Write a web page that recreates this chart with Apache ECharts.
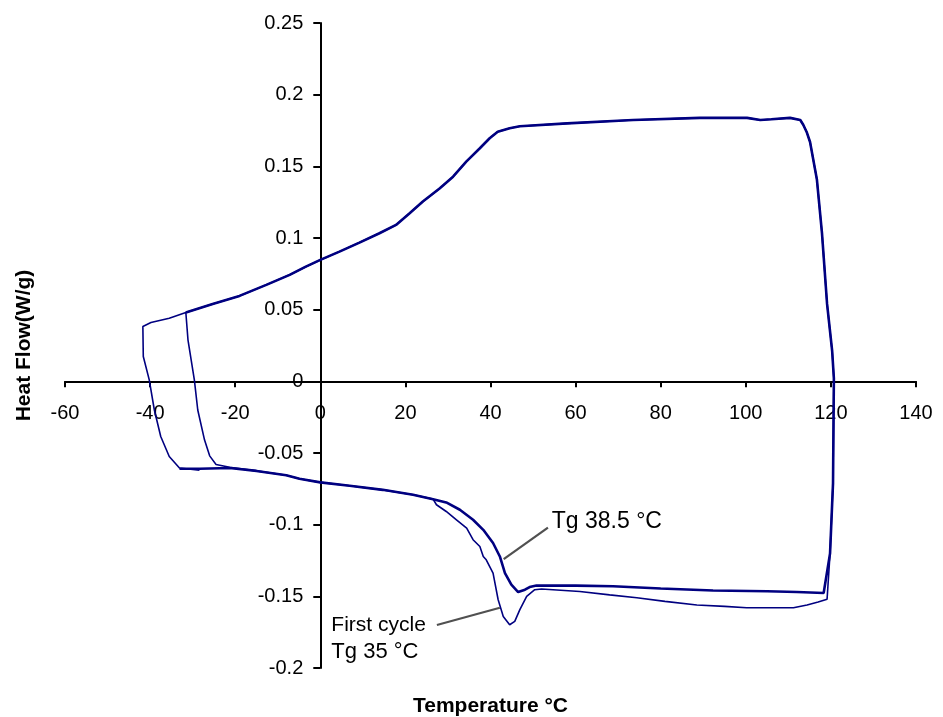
<!DOCTYPE html>
<html>
<head>
<meta charset="utf-8">
<script src="https://cdn.jsdelivr.net/npm/echarts@6/dist/echarts.min.js"></script>
<style>html,body{margin:0;padding:0;background:#fff}#c{width:943px;height:717px}</style>
</head>
<body>
<div id="c"></div>
<script>
// ---- Data segments (Temperature °C, Heat Flow W/g) ----
// cooling curve (shared by both cycles), read right to left
const topTemp = [115.1,114.3,113.5,112.8,110.4,106,103.4,100.3,89.2,73.5,58,46.9,44.5,41.7,39.8,37.5,34.3,31.2,28.1,24.1,21,17.8,13.9,9.2,4.5,0,-3.4,-7.2,-12.7,-19,-25.3,-31.6];
const topFlow = [0.167,0.174,0.179,0.1823,0.1838,0.1828,0.1823,0.1838,0.1838,0.1823,0.180,0.178,0.1766,0.1742,0.1696,0.1626,0.1533,0.1428,0.1347,0.1254,0.1173,0.1091,0.1033,0.0968,0.0905,0.0847,0.080,0.0743,0.0673,0.0596,0.054,0.048];
// drop at -30 °C
const innerDropTemp = [-31.6,-31.1,-29.6,-28.8,-27.2,-26,-24.5,-21.3];
const innerDropFlow = [0.048,0.029,0.001,-0.020,-0.041,-0.052,-0.058,-0.060];
// drop at -42 °C
const outerDropTemp = [-35.5,-39.8,-41.7,-41.6,-40.2,-39,-37.5,-35.5,-33.1,-28.4];
const outerDropFlow = [0.044,0.041,0.0382,0.0173,0.001,-0.020,-0.0385,-0.0524,-0.0605,-0.062];
// start of second heating
const start2Temp = [-33.1,-28.4];
const start2Flow = [-0.061,-0.061];
// heating curve, common part
const sharedBottomTemp = [-21.3,-15,-8,-4.9,0,6.9,14.7,21.8,26.5];
const sharedBottomFlow = [-0.0605,-0.0625,-0.0655,-0.068,-0.0705,-0.0729,-0.0757,-0.0791,-0.0822];
// heating curve, first cycle
const bottom1Temp = [27.3,29.6,32,34.4,35.9,37.5,38.3,39,40.6,41.8,43,44.5,45.7,46.9,48.5,50.4,52,61,68,74.4,81,88.5,95,100.2,106,111.2,114.4,117,119.1];
const bottom1Flow = [-0.0861,-0.0908,-0.0966,-0.1024,-0.1105,-0.1152,-0.1222,-0.1245,-0.1338,-0.1524,-0.164,-0.1698,-0.1675,-0.1593,-0.150,-0.1454,-0.1449,-0.1466,-0.149,-0.151,-0.1535,-0.156,-0.157,-0.158,-0.158,-0.158,-0.156,-0.154,-0.152];
// heating curve, second cycle
const bottom2Temp = [29.6,32.8,35.9,38.3,40.6,42.2,43.4,44.9,46.5,48.1,49.2,50.8,60,68.8,80,92.3,105,112,118.3];
const bottom2Flow = [-0.0845,-0.0896,-0.0966,-0.1036,-0.1128,-0.1222,-0.1338,-0.1419,-0.147,-0.1454,-0.1435,-0.1424,-0.1425,-0.143,-0.1445,-0.1459,-0.1465,-0.147,-0.1477];
// turn-around at 120 °C
const rightEdgeTemp = [119.8,120.5,120.7,120.3,119.1,117.9,116.7];
const rightEdgeFlow = [-0.120,-0.071,0.002,0.021,0.054,0.1036,0.141];
// Axis ticks
const xTicks = {min: -60, max: 140, step: 20};
const yTicks = {min: -0.2, max: 0.25, step: 0.05};
// Annotations (data coordinates)
const annoTexts = ['Tg 38.5 °C', 'First cycle', 'Tg 35 °C'];
const annoAnchors = [[54.4, -0.098], [2.6, -0.170], [2.6, -0.189]];
const leaderStarts = [[53.5, -0.102], [27.4, -0.170]];
const leaderEnds = [[43.1, -0.124], [42.2, -0.158]];

const zip = (a, b) => a.map((v, i) => [v, b[i]]);
const cycle1 = [].concat(zip(innerDropTemp, innerDropFlow), zip(sharedBottomTemp, sharedBottomFlow),
  zip(bottom1Temp, bottom1Flow), zip(rightEdgeTemp, rightEdgeFlow), zip(topTemp, topFlow),
  zip(outerDropTemp, outerDropFlow));
const cycle2 = [].concat(zip(start2Temp, start2Flow), zip(sharedBottomTemp, sharedBottomFlow),
  zip(bottom2Temp, bottom2Flow), zip(rightEdgeTemp, rightEdgeFlow), zip(topTemp, topFlow));

const W = 943, H = 717;
const G = {left: 65, right: 27, top: 23, bottom: 49};
const gw = W - G.left - G.right, gh = H - G.top - G.bottom;
// place the axes at the origin (crossing at zero) by offsetting them into the grid
const xOffset = -gh * (0 - yTicks.min) / (yTicks.max - yTicks.min);
const yOffset = -gw * (0 - xTicks.min) / (xTicks.max - xTicks.min);

const chart = echarts.init(document.getElementById('c'), null, {renderer: 'canvas'});
const FONT = 'Liberation Sans, Arial, sans-serif';
chart.setOption({
  animation: false,
  backgroundColor: '#fff',
  grid: Object.assign({containLabel: false, outerBoundsMode: 'none'}, G),
  xAxis: {
    type: 'value', min: xTicks.min, max: xTicks.max, interval: xTicks.step,
    position: 'bottom', offset: xOffset,
    name: 'Temperature °C', nameLocation: 'middle', nameGap: 314,
    nameTextStyle: {fontFamily: FONT, fontSize: 21, fontWeight: 'bold', color: '#000'},
    axisLine: {onZero: false, lineStyle: {color: '#000', width: 2}},
    axisTick: {show: true, length: 6, lineStyle: {color: '#000', width: 2}},
    axisLabel: {fontFamily: FONT, fontSize: 20, color: '#000', margin: 22},
    splitLine: {show: false}
  },
  yAxis: {
    type: 'value', min: yTicks.min, max: yTicks.max, interval: yTicks.step,
    position: 'left', offset: yOffset,
    name: 'Heat Flow(W/g)', nameLocation: 'middle', nameGap: 286, nameRotate: 90,
    nameTextStyle: {fontFamily: FONT, fontSize: 21, fontWeight: 'bold', color: '#000'},
    axisLine: {onZero: false, lineStyle: {color: '#000', width: 2}},
    axisTick: {show: true, length: 7, lineStyle: {color: '#000', width: 2}},
    axisLabel: {fontFamily: FONT, fontSize: 20, color: '#000', margin: 17,
      formatter: v => String(+v.toFixed(2))},
    splitLine: {show: false}
  },
  series: [
    {name: 'First cycle', type: 'line', data: cycle1, showSymbol: false,
      lineStyle: {color: '#000080', width: 1.6}, z: 3},
    {name: 'Second cycle', type: 'line', data: cycle2, showSymbol: false,
      lineStyle: {color: '#000080', width: 2.6}, z: 2}
  ]
});

const annoFontSizes = [23, 21, 22];
function drawAnnotations() {
  const g = [];
  leaderStarts.forEach((s, i) => {
    const p1 = chart.convertToPixel({gridIndex: 0}, s);
    const p2 = chart.convertToPixel({gridIndex: 0}, leaderEnds[i]);
    g.push({type: 'line', shape: {x1: p1[0], y1: p1[1], x2: p2[0], y2: p2[1]},
      style: {stroke: '#505050', lineWidth: 2.2}, z: 10});
  });
  annoTexts.forEach((t, i) => {
    const p = chart.convertToPixel({gridIndex: 0}, annoAnchors[i]);
    g.push({type: 'text', x: p[0], y: p[1], z: 10,
      style: {text: t, fill: '#000', font: annoFontSizes[i] + 'px ' + FONT,
        textAlign: 'left', textVerticalAlign: 'middle'}});
  });
  chart.setOption({graphic: g});
}
drawAnnotations();
</script>
</body>
</html>
